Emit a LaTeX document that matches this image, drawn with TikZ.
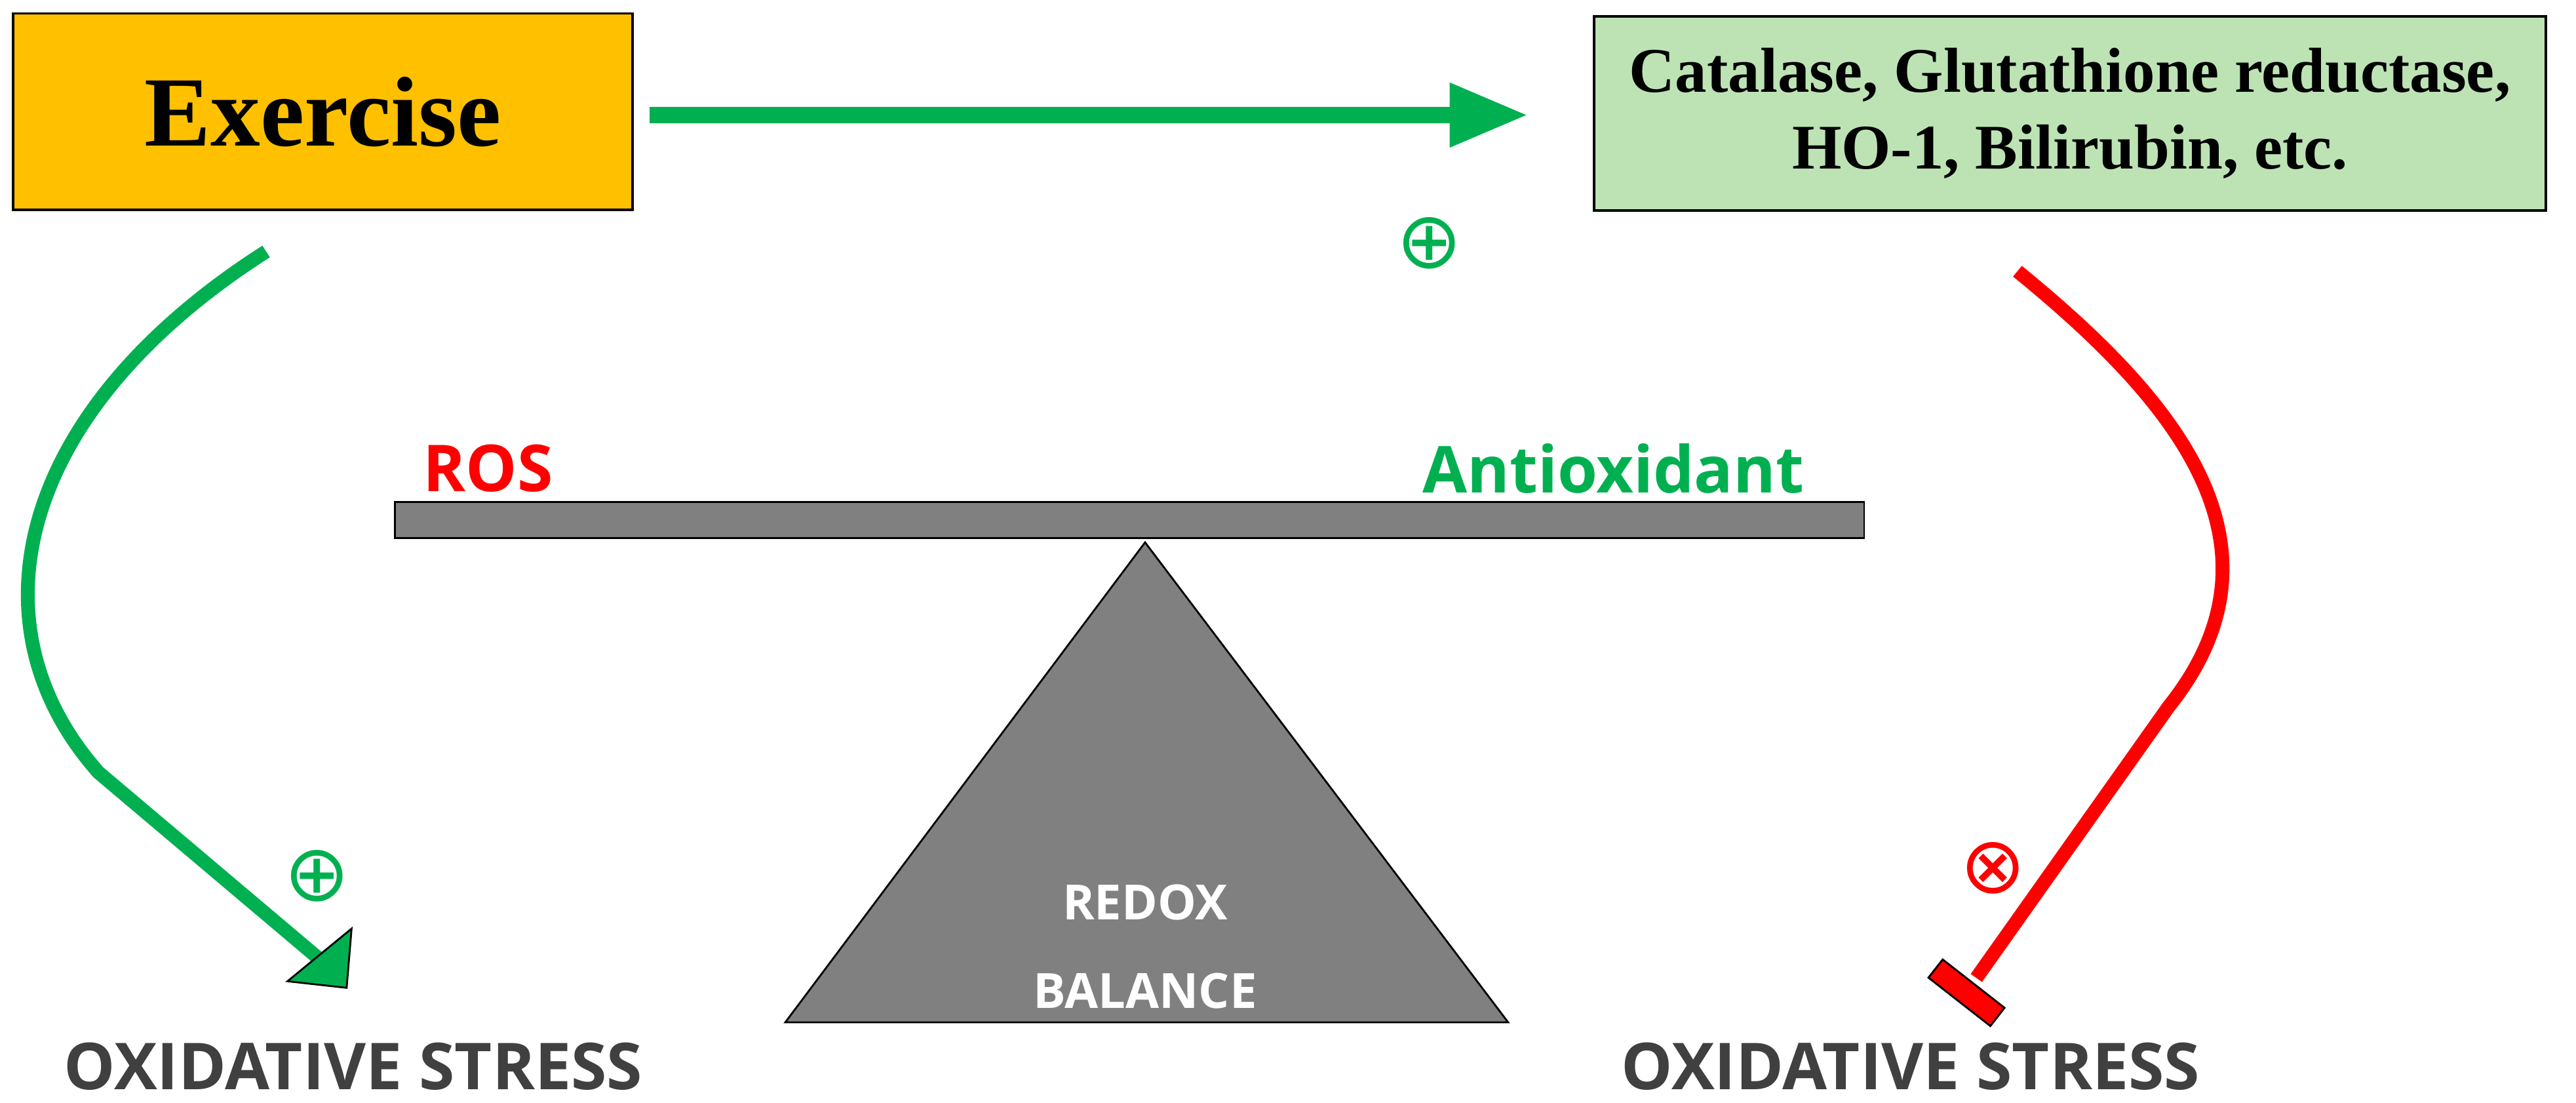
\documentclass[tikz,border=0pt]{standalone}
\usepackage{fontspec}
\setmainfont{Liberation Serif}
\newfontfamily\sansbold{Open Sans}
\newfontfamily\djv{DejaVu Sans}
\usetikzlibrary{arrows.meta}
\definecolor{gr}{HTML}{00B050}
\definecolor{orng}{HTML}{FFC000}
\definecolor{lgr}{HTML}{BDE3B5}
\definecolor{txtg}{HTML}{404040}
\definecolor{gry}{HTML}{808080}
\begin{document}
\begin{tikzpicture}[x=0.025cm,y=-0.025cm,
  boxa/.style={draw=black,line width=1pt,inner sep=0pt},
  oxs/.style={font=\sansbold\bfseries\fontsize{28}{30}\selectfont,text=txtg},
  sym/.style={font=\djv\fontsize{34}{36}\selectfont}]
\useasboundingbox (0,0) rectangle (1568,671);
\node[boxa,fill=orng,minimum width=268pt,minimum height=85pt] (ex) at (196.5,68) {\bfseries\fontsize{43}{46}\selectfont Exercise};
\node[boxa,fill=lgr,minimum width=412pt,minimum height=84pt,align=center,font=\bfseries\fontsize{27.5}{33}\selectfont] (enz) at (1260,69)
  {Catalase, Glutathione reductase,\\HO-1, Bilirubin, etc.};
\draw[gr,line width=7pt,-{Triangle[length=34pt,width=26pt]},shorten <=7pt,shorten >=28pt]
  (ex.east |- 0,70) -- (enz.west |- 0,70);
\node[sym,text=gr] (p1) at (870,148) {⊕};
% beam and fulcrum
\node[draw=black,line width=0.8pt,fill=gry,minimum width=636pt,minimum height=15.6pt,inner sep=0pt] (beam) at (687.5,316.5) {};
\draw[line width=0.8pt,fill=gry] (697,330) coordinate (apex) -- (918,622) -- (478,622) -- cycle;
\node[font=\sansbold\bfseries\fontsize{21}{24}\selectfont,text=white] (redox) at (697,549) {REDOX};
\node[font=\sansbold\bfseries\fontsize{21}{24}\selectfont,text=white] (bal) at (697,603) {BALANCE};
\node[font=\sansbold\bfseries\fontsize{28}{30}\selectfont,text=red] (ros) at (297,285) {ROS};
\node[font=\sansbold\bfseries\fontsize{28}{30}\selectfont,text=gr] (anti) at (982,285) {Antioxidant};
% oxidative stress labels
\node[oxs] (ox1) at (215,649) {OXIDATIVE STRESS};
\node[oxs] (ox2) at (1163,649) {OXIDATIVE STRESS};
% left curve
\coordinate (l1) at (195,584);
\draw[gr,line width=6pt] (162,153) .. controls (10,250) and (-20,380) .. (60,470) -- (l1);
\draw[line width=0.8pt,fill=gr] (214,565) -- (175,597) -- (211,601) -- cycle;
\node[sym,text=gr] (p2) at (193,533) {⊕};
% right curve
\coordinate (r1) at (1203,595);
\draw[red,line width=6pt] (1228,165) .. controls (1320,240) and (1400,330) .. (1320,430) -- (r1);
\node[draw=black,line width=0.8pt,fill=red,minimum width=34pt,minimum height=10pt,inner sep=0pt,rotate=-38] (bar) at (1197,604) {};
\node[sym,text=red] (m1) at (1213,528) {⊗};
\end{tikzpicture}
\end{document}
